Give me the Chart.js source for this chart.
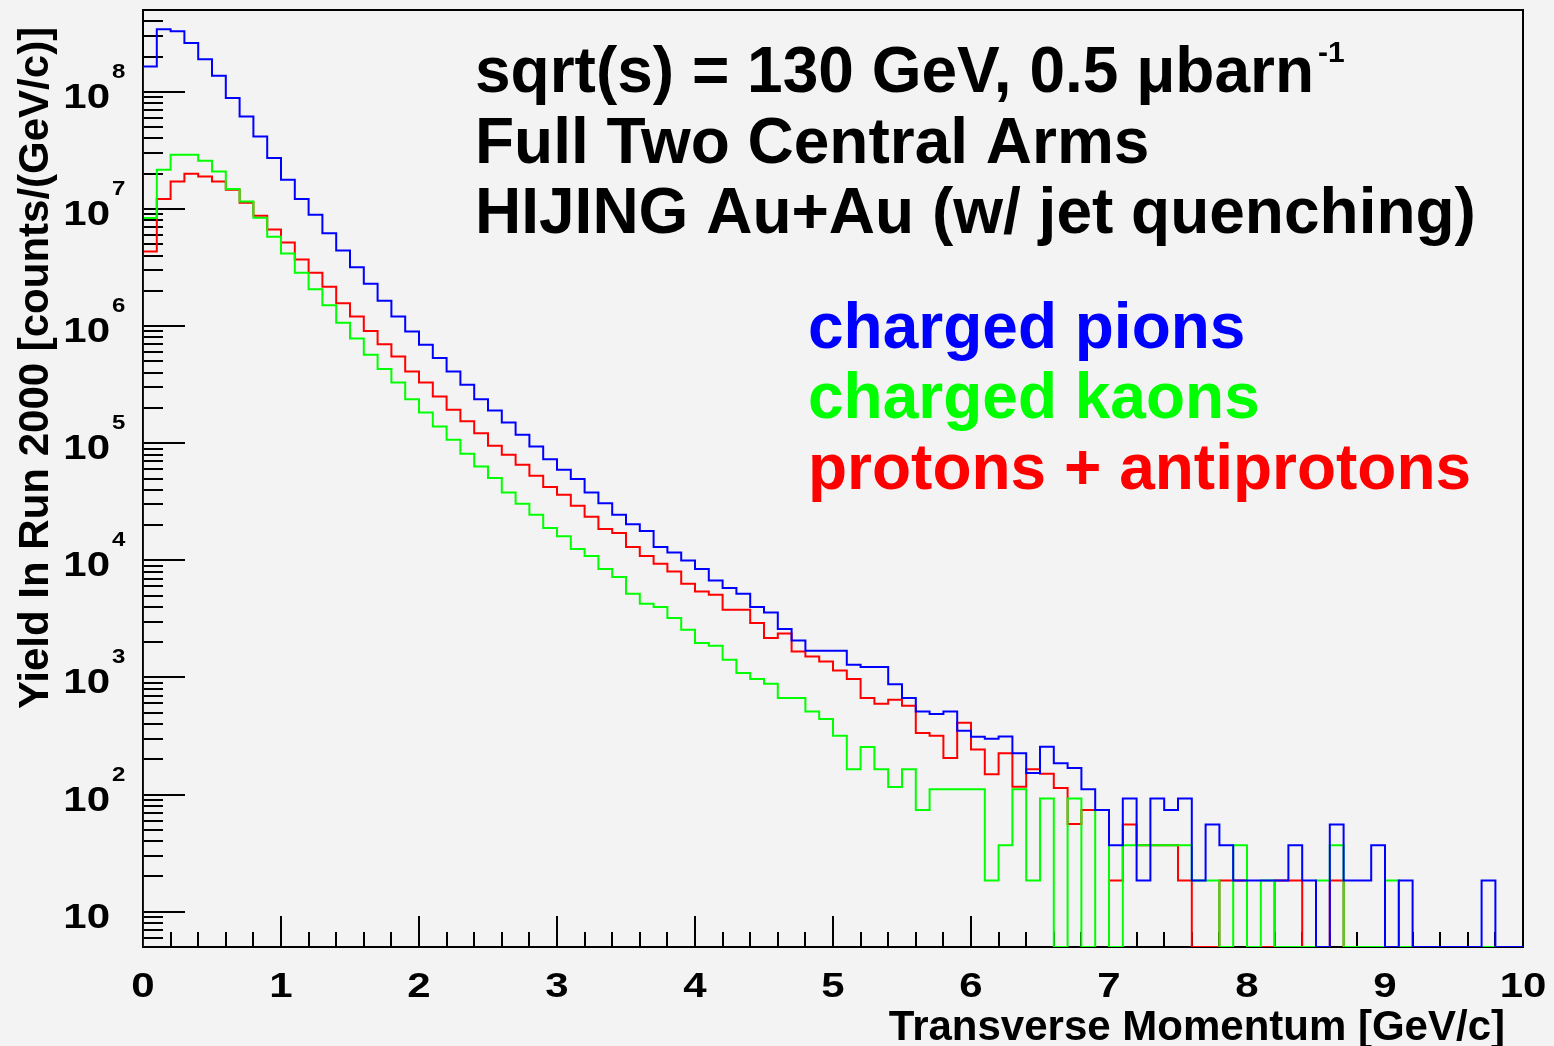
<!DOCTYPE html>
<html>
<head>
<meta charset="utf-8">
<script src="https://cdn.jsdelivr.net/npm/chart.js@4/dist/chart.umd.min.js"></script>
<style>
  html, body { margin: 0; padding: 0; background: #f3f3f3; }
  canvas { display: block; }
</style>
</head>
<body>
<canvas id="c" width="1554" height="1046"></canvas>
<script>
// pT binning (GeV/c) and yield range
const BIN_WIDTH = 0.1;
const PT_MIN = 0;
const PT_MAX = 10;
const Y_MIN = 5;
const Y_MAX = 5e8;

// Yield per 0.1 GeV/c bin, counts/(GeV/c); 0 = empty bin
const pionYield = [
  1.65e8, 3.42e8, 3.29e8, 2.61e8, 1.90e8, 1.37e8, 8.85e7, 6.17e7, 4.16e7, 2.72e7,
  1.78e7, 1.22e7, 8.93e6, 6.22e6, 4.42e6, 3.18e6, 2.30e6, 1.65e6, 1.21e6, 8.99e5,
  6.93e5, 5.33e5, 4.10e5, 3.16e5, 2.38e5, 1.90e5, 1.50e5, 1.18e5, 9.39e4, 7.30e4,
  5.94e4, 4.94e4, 3.80e4, 3.07e4, 2.45e4, 2.03e4, 1.78e4, 1.30e4, 1.17e4, 9980,
  8430, 6740, 5810, 5190, 4000, 3590, 2590, 2070, 1690, 1690,
  1690, 1285, 1228, 1228, 875, 668, 513, 488, 513, 351,
  312, 300, 314, 226, 153, 256, 185, 169, 111, 74,
  37, 92.5, 18.5, 92.5, 74, 92.5, 18.5, 55.5, 37, 18.5,
  18.5, 18.5, 18.5, 37, 18.5, 0, 55.5, 18.5, 18.5, 37,
  0, 18.5, 0, 0, 0, 0, 0, 18.5, 0, 0
];
const kaonYield = [
  8.36e6, 2.16e7, 2.90e7, 2.90e7, 2.58e7, 2.09e7, 1.48e7, 1.16e7, 8.41e6, 5.79e6,
  4.17e6, 2.85e6, 2.06e6, 1.51e6, 1.07e6, 7.83e5, 5.69e5, 4.30e5, 3.30e5, 2.38e5,
  1.83e5, 1.39e5, 1.07e5, 8.13e4, 6.34e4, 5.05e4, 3.80e4, 3.04e4, 2.45e4, 1.89e4,
  1.61e4, 1.25e4, 1.09e4, 8430, 7210, 5190, 4260, 4000, 3220, 2560,
  1970, 1870, 1420, 1090, 970, 885, 668, 668, 513, 442,
  318, 165, 255, 165, 116, 165, 74, 111, 111, 111,
  111, 18.5, 37, 111, 18.5, 92.5, 0, 92.5, 0, 74,
  0, 37, 37, 37, 37, 37, 18.5, 18.5, 0, 37,
  0, 18.5, 0, 0, 0, 18.5, 37, 0, 0, 0,
  18.5, 0, 0, 0, 0, 0, 0, 0, 0, 0
];
const protonYield = [
  4.34e6, 1.22e7, 1.72e7, 2.00e7, 1.89e7, 1.72e7, 1.46e7, 1.13e7, 8.75e6, 6.68e6,
  5.18e6, 3.71e6, 2.85e6, 2.17e6, 1.57e6, 1.21e6, 9.10e5, 7.00e5, 5.51e5, 4.10e5,
  3.30e5, 2.51e5, 1.93e5, 1.54e5, 1.22e5, 9.52e4, 7.98e4, 6.55e4, 5.27e4, 4.23e4,
  3.63e4, 2.93e4, 2.36e4, 1.85e4, 1.71e4, 1.30e4, 1.09e4, 9350, 8040, 6310,
  5430, 5090, 3780, 3780, 2920, 2170, 2370, 1670, 1510, 1370,
  1150, 970, 668, 597, 646, 574, 336, 318, 205, 411,
  243, 149, 226, 117, 165, 151, 114, 56, 74, 74,
  18.5, 55.5, 37, 37, 37, 18.5, 0, 0, 18.5, 18.5,
  0, 0, 18.5, 18.5, 0, 0, 18.5, 0, 0, 0,
  0, 0, 0, 0, 0, 0, 0, 0, 0, 0
];

// Axis labelling
const xTickLabels = ['0', '1', '2', '3', '4', '5', '6', '7', '8', '9', '10'];
const yDecadeExponents = [1, 2, 3, 4, 5, 6, 7, 8];
const xTitle = 'Transverse Momentum [GeV/c]';
const yTitle = 'Yield In Run 2000 [counts/(GeV/c)]';
const infoLines = ['sqrt(s) = 130 GeV, 0.5 \u03bcbarn', 'Full Two Central Arms', 'HIJING Au+Au (w/ jet quenching)'];
const infoSuperscript = '-1';
const seriesNames = ['charged pions', 'charged kaons', 'protons + antiprotons'];
const seriesColors = ['#0000ff', '#00ff00', '#ff0000'];

const FONT = '"Liberation Sans", Arial, Helvetica, sans-serif';

// Histogram outline: start on the frame floor, one point per bin left edge, close at PT_MAX
function histPoints(values) {
  const pts = [{ x: PT_MIN, y: Y_MIN }];
  values.forEach((v, i) => pts.push({ x: PT_MIN + i * BIN_WIDTH, y: Math.max(v, Y_MIN) }));
  pts.push({ x: PT_MAX, y: Math.max(values[values.length - 1], Y_MIN) });
  return pts;
}

// left-aligned text stretched horizontally by sx
function drawScaledText(ctx, text, x, y, sx) {
  ctx.save();
  ctx.textAlign = 'left';
  ctx.translate(x, y);
  ctx.scale(sx, 1);
  ctx.fillText(text, 0, 0);
  ctx.restore();
}

const rootStyle = {
  id: 'rootStyle',
  beforeDraw(chart) {
    const { ctx, width, height } = chart;
    ctx.save();
    ctx.fillStyle = '#f3f3f3';
    ctx.fillRect(0, 0, width, height);
    ctx.restore();
  },
  beforeDatasetsDraw(chart) {
    const { ctx, chartArea: a, scales: { x, y } } = chart;
    ctx.save();
    ctx.strokeStyle = '#000';
    ctx.lineWidth = 2;
    ctx.strokeRect(a.left, a.top, a.right - a.left, a.bottom - a.top);
    ctx.beginPath();
    // log-axis ticks: long at decades, short at 2..9
    for (let d = 0; d <= 8; d++) {
      for (let m = 1; m <= 9; m++) {
        const v = m * Math.pow(10, d);
        if (v < Y_MIN || v > Y_MAX) continue;
        const py = Math.round(y.getPixelForValue(v));
        ctx.moveTo(a.left, py);
        ctx.lineTo(a.left + (m === 1 ? 42 : 20), py);
      }
    }
    // pT ticks every 0.2, long at integers
    for (let k = 0; k <= 50; k++) {
      const px = Math.round(x.getPixelForValue(k * 0.2));
      ctx.moveTo(px, a.bottom);
      ctx.lineTo(px, a.bottom - (k % 5 === 0 ? 31 : 15));
    }
    ctx.stroke();
    ctx.restore();
  },
  afterDraw(chart) {
    const { ctx, scales: { x, y } } = chart;
    ctx.save();
    ctx.fillStyle = '#000';
    ctx.textBaseline = 'alphabetic';
    const SX = 1.2;

    // y tick labels: 10 with exponent
    yDecadeExponents.forEach(e => {
      const py = y.getPixelForValue(Math.pow(10, e));
      ctx.font = 'bold 35px ' + FONT;
      const w = ctx.measureText('10').width * SX;
      drawScaledText(ctx, '10', 110 - w, py + 16, SX);
      if (e > 1) {
        ctx.font = 'bold 20px ' + FONT;
        drawScaledText(ctx, String(e), 112, py - 14, SX);
      }
    });

    // x tick labels
    ctx.font = 'bold 35px ' + FONT;
    xTickLabels.forEach((lab, i) => {
      const px = x.getPixelForValue(i);
      const w = ctx.measureText(lab).width * SX;
      drawScaledText(ctx, lab, px - w / 2, 997, SX);
    });

    // axis titles
    ctx.font = 'bold 42px ' + FONT;
    ctx.textAlign = 'right';
    ctx.fillText(xTitle, 1505, 1040);
    ctx.save();
    ctx.translate(48, 368);
    ctx.rotate(-Math.PI / 2);
    ctx.textAlign = 'center';
    ctx.fillText(yTitle, 0, 0);
    ctx.restore();

    // run conditions
    ctx.font = 'bold 64px ' + FONT;
    ctx.textAlign = 'left';
    const infoBase = [92, 163, 233];
    infoLines.forEach((t, i) => ctx.fillText(t, 475, infoBase[i]));
    const w0 = ctx.measureText(infoLines[0]).width;
    ctx.font = 'bold 30px ' + FONT;
    ctx.fillText(infoSuperscript, 475 + w0 + 4, 62);

    // series labels
    ctx.font = 'bold 64px ' + FONT;
    const labelBase = [348, 418, 489];
    seriesNames.forEach((t, i) => {
      ctx.fillStyle = seriesColors[i];
      ctx.fillText(t, 808, labelBase[i]);
    });
    ctx.restore();
  }
};

new Chart(document.getElementById('c'), {
  type: 'line',
  data: {
    datasets: [
      { label: seriesNames[0], data: histPoints(pionYield), borderColor: seriesColors[0] },
      { label: seriesNames[1], data: histPoints(kaonYield), borderColor: seriesColors[1] },
      { label: seriesNames[2], data: histPoints(protonYield), borderColor: seriesColors[2] }
    ].map(ds => Object.assign(ds, {
      stepped: true,
      borderWidth: 2,
      pointRadius: 0,
      fill: false,
      tension: 0
    }))
  },
  options: {
    responsive: false,
    animation: false,
    devicePixelRatio: 1,
    layout: { padding: { left: 143, right: 31, top: 10, bottom: 99 } },
    scales: {
      x: { type: 'linear', min: PT_MIN, max: PT_MAX, display: false },
      y: { type: 'logarithmic', min: Y_MIN, max: Y_MAX, display: false }
    },
    plugins: {
      legend: { display: false },
      tooltip: { enabled: false },
      title: { display: false }
    }
  },
  plugins: [rootStyle]
});
</script>
</body>
</html>
